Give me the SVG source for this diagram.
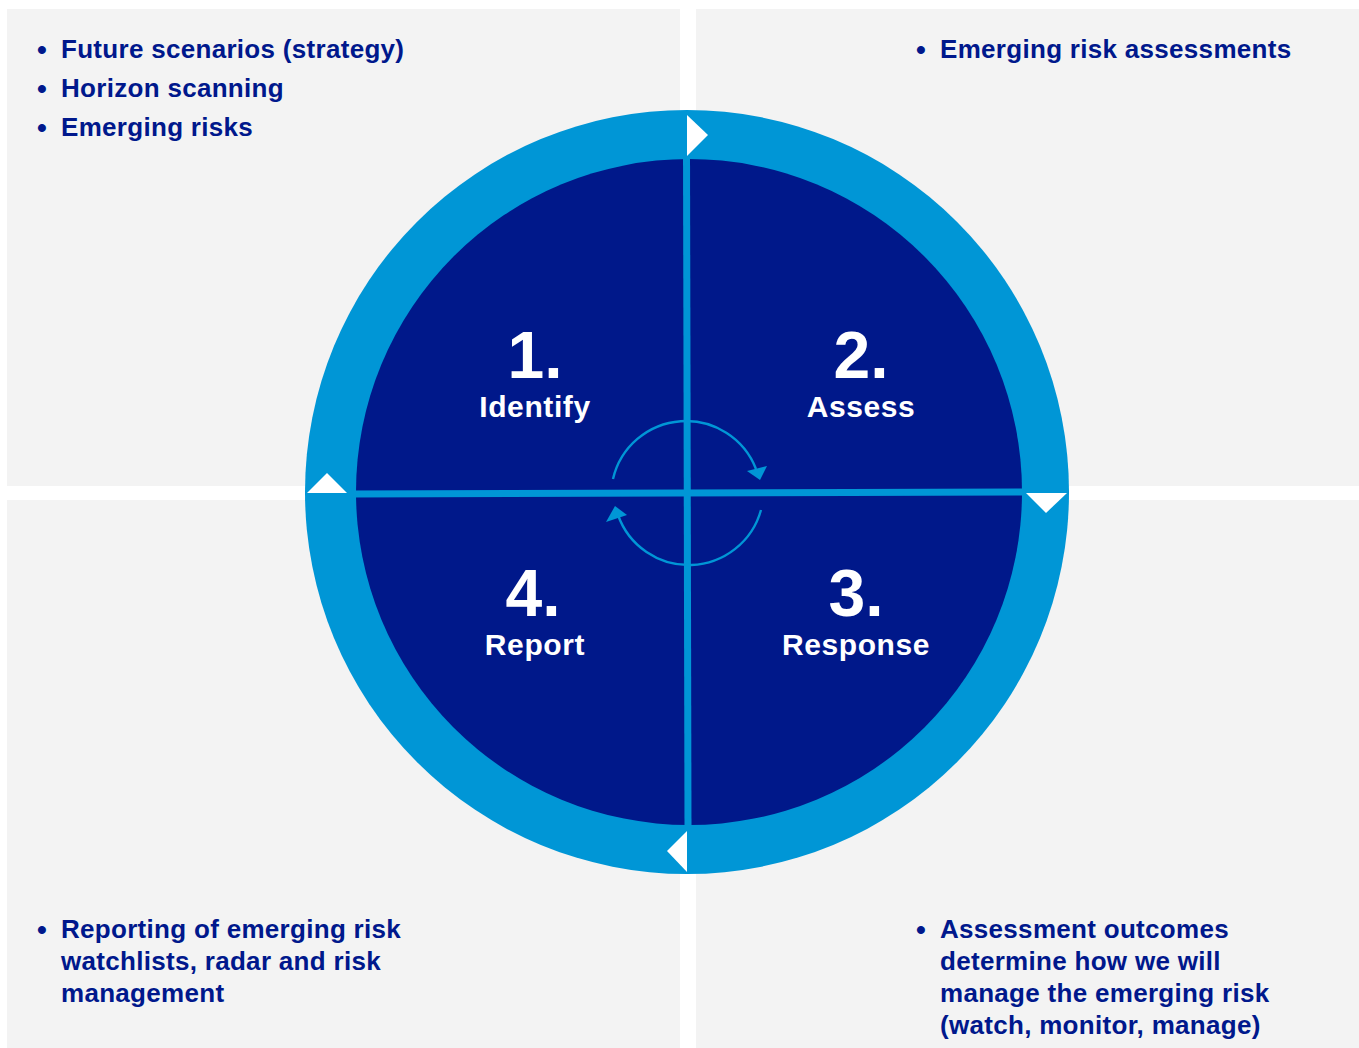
<svg xmlns="http://www.w3.org/2000/svg" width="1359" height="1048" viewBox="0 0 1359 1048">
  <style>
    .panel { fill: #f3f3f3; }
    .bul { font-family: "Liberation Sans", Arial, sans-serif; font-weight: bold; font-size: 26px; fill: #00188c; letter-spacing: 0.3px; }
    .dot { font-family: "Liberation Sans", Arial, sans-serif; font-weight: bold; font-size: 28px; fill: #00188c; }
    .num { font-family: "Liberation Sans", Arial, sans-serif; font-weight: bold; font-size: 66px; fill: #ffffff; text-anchor: middle; }
    .lbl { font-family: "Liberation Sans", Arial, sans-serif; font-weight: bold; font-size: 30px; fill: #ffffff; text-anchor: middle; letter-spacing: 0.6px; }
    .cyc { fill: none; stroke: #0096d6; stroke-width: 2.4; }
    .tri { fill: #ffffff; }
  </style>
  <rect width="1359" height="1048" fill="#ffffff"/>

  <g id="panel-identify">
    <rect class="panel" x="7" y="9" width="673" height="477"/>
    <text class="dot" x="37" y="59">•</text>
    <text class="bul" x="61" y="58">Future scenarios (strategy)</text>
    <text class="dot" x="37" y="98">•</text>
    <text class="bul" x="61" y="97">Horizon scanning</text>
    <text class="dot" x="37" y="137">•</text>
    <text class="bul" x="61" y="136">Emerging risks</text>
  </g>
  <g id="panel-assess">
    <rect class="panel" x="696" y="9" width="663" height="477"/>
    <text class="dot" x="916" y="59">•</text>
    <text class="bul" x="940" y="58">Emerging risk assessments</text>
  </g>
  <g id="panel-report">
    <rect class="panel" x="7" y="500" width="673" height="548"/>
    <text class="dot" x="37" y="939">•</text>
    <text class="bul"><tspan x="61" y="938">Reporting of emerging risk</tspan><tspan x="61" y="970">watchlists, radar and risk</tspan><tspan x="61" y="1002">management</tspan></text>
  </g>
  <g id="panel-response">
    <rect class="panel" x="696" y="500" width="663" height="548"/>
    <text class="dot" x="916" y="939">•</text>
    <text class="bul"><tspan x="940" y="938">Assessment outcomes</tspan><tspan x="940" y="970">determine how we will</tspan><tspan x="940" y="1002">manage the emerging risk</tspan><tspan x="940" y="1034">(watch, monitor, manage)</tspan></text>
  </g>

  <g id="cycle">
    <circle cx="687" cy="492" r="382" fill="#0096d6"/>
    <circle cx="689" cy="492" r="333" fill="#00188a"/>
    <line x1="686.5" y1="150" x2="688" y2="832" stroke="#0096d6" stroke-width="7"/>
    <line x1="350" y1="494" x2="1028" y2="492" stroke="#0096d6" stroke-width="7"/>
  </g>

  <g id="node-identify">
    <text class="num" x="535" y="378">1.</text>
    <text class="lbl" x="535" y="417">Identify</text>
  </g>
  <g id="node-assess">
    <text class="num" x="861" y="378">2.</text>
    <text class="lbl" x="861" y="417">Assess</text>
  </g>
  <g id="node-response">
    <text class="num" x="856" y="616">3.</text>
    <text class="lbl" x="856" y="655">Response</text>
  </g>
  <g id="node-report">
    <text class="num" x="533" y="616">4.</text>
    <text class="lbl" x="535" y="655">Report</text>
  </g>

  <g id="connectors">
    <polygon class="tri" points="687,115 708,135 687,156"/>
    <polygon class="tri" points="1026,493 1067,493 1046,513"/>
    <polygon class="tri" points="687,831 667,851 687,872"/>
    <polygon class="tri" points="307,493 327,473 347,493"/>
    <path class="cyc" d="M 613 479 A 75 75 0 0 1 756 469"/>
    <polygon fill="#0096d6" points="747,471 767,466 760,480"/>
    <path class="cyc" d="M 761 510 A 75 75 0 0 1 618 515"/>
    <polygon fill="#0096d6" points="606,522 615,506 627,515"/>
  </g>
</svg>
